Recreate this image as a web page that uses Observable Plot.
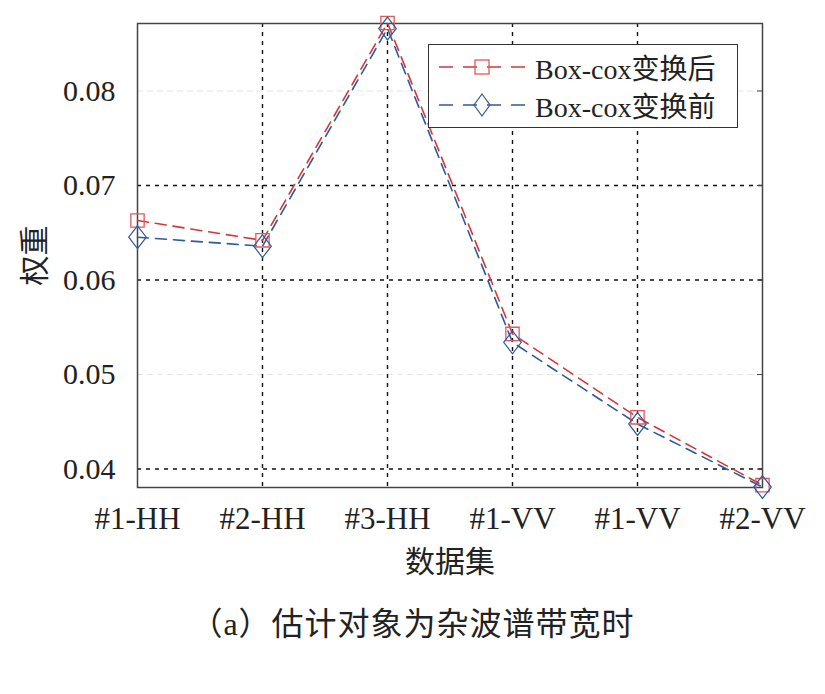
<!DOCTYPE html>
<html>
<head>
<meta charset="utf-8">
<script src="https://cdn.jsdelivr.net/npm/d3@7"></script>
<script src="https://cdn.jsdelivr.net/npm/@observablehq/plot@0.6"></script>
<style>
  body { margin: 0; background: #fff; }
  #wrap { position: relative; width: 825px; }
  #caption { font-family: "Liberation Serif", "Noto Sans CJK SC", serif; font-size: 32px; color: #222; text-align: center; width: 825px; margin-top: 8px; letter-spacing: 1px; }
  #legend { position: absolute; left: 428px; top: 44px; width: 310px; height: 84px; border: 1.3px solid #333; background: #fff; box-sizing: border-box; }
  #legend .row { position: absolute; left: 0; height: 36px; display: flex; align-items: center; }
  #legend span { font-family: "Liberation Serif", "Noto Sans CJK SC", serif; font-size: 28px; color: #222; margin-left: 8px; }
</style>
</head>
<body>
<div id="wrap"></div>
<div id="caption">（a）估计对象为杂波谱带宽时</div>
<script>
const categories = ["#1-HH", "#2-HH", "#3-HH", "#1-VV", "#1-VV", "#2-VV"];
const afterBoxcox = [0.0663, 0.0642, 0.0872, 0.0543, 0.04547, 0.0383];
const beforeBoxcox = [0.06453, 0.06358, 0.08661, 0.05341, 0.04477, 0.0381];
const seriesNames = ["Box-cox变换后", "Box-cox变换前"];
const yTicks = [0.04, 0.05, 0.06, 0.07, 0.08];
const darkGridY = [0.04, 0.06, 0.07];
const faintGridY = [0.05, 0.08];

const red = "#d8343b", blue = "#2d5a9c";
const font = "Liberation Serif, Noto Sans CJK SC, serif";

const rows = [];
categories.forEach((c, i) => {
  rows.push({i, v: afterBoxcox[i], s: seriesNames[0]});
  rows.push({i, v: beforeBoxcox[i], s: seriesNames[1]});
});
const after = rows.filter(d => d.s === seriesNames[0]);
const before = rows.filter(d => d.s === seriesNames[1]);

const tallDiamond = {
  draw(ctx, size) {
    const r = Math.sqrt(size) * 0.62;
    const h = r * 1.3;
    ctx.moveTo(0, -h); ctx.lineTo(r, 0); ctx.lineTo(0, h); ctx.lineTo(-r, 0); ctx.closePath();
  }
};

const chart = Plot.plot({
  width: 825,
  height: 590,
  marginLeft: 137,
  marginRight: 63,
  marginTop: 23,
  marginBottom: 103,
  style: { fontFamily: font, background: "#fff", color: "#222", overflow: "visible" },
  x: { type: "linear", domain: [0, 5] },
  y: { domain: [0.03805, 0.08714] },
  marks: [
    Plot.gridY(faintGridY, { stroke: "#ccc", strokeOpacity: 0.5, strokeDasharray: "6,4" }),
    Plot.gridY(darkGridY, { stroke: "#111", strokeOpacity: 1, strokeDasharray: "4,5", strokeWidth: 1.4 }),
    Plot.gridX([1, 2, 3, 4], { stroke: "#111", strokeOpacity: 1, strokeDasharray: "4,5", strokeWidth: 1.4 }),
    Plot.frame({ stroke: "#444", strokeWidth: 1.5 }),
    Plot.axisY({ ticks: yTicks, tickFormat: d3.format(".2f"), tickSize: 0, tickPadding: 22, fontSize: 30, label: "权重", labelAnchor: "center", labelArrow: "none", labelOffset: 114 }),
    Plot.axisY({ anchor: "right", ticks: yTicks, tickSize: -6, tickFormat: () => "", label: null, stroke: "#444" }),
    Plot.axisX({ ticks: [0, 1, 2, 3, 4, 5], tickFormat: i => categories[i], tickSize: 0, tickPadding: 19, fontSize: 31, label: "数据集", labelAnchor: "center", labelArrow: "none", labelOffset: 84, dx: 0 }),
    Plot.line(after, { x: "i", y: "v", stroke: red, strokeWidth: 1.6, strokeDasharray: "11,7" }),
    Plot.line(before, { x: "i", y: "v", stroke: blue, strokeWidth: 1.6, strokeDasharray: "11,7" }),
    Plot.dot(after, { x: "i", y: "v", symbol: "square", r: 7.5, stroke: "#e05a5a", strokeWidth: 1.3, fill: "none" }),
    Plot.dot(before, { x: "i", y: "v", symbol: tallDiamond, r: 8, stroke: blue, strokeWidth: 1.2, fill: "none" })
  ]
});
d3.select(chart).selectAll("g[aria-label='y-axis label'] text, g[aria-label='x-axis label'] text").style("font-size", "30px");
document.getElementById("wrap").appendChild(chart);

// Legend
const legend = document.createElement("div");
legend.id = "legend";
const items = [
  { name: seriesNames[0], color: red, mark: "square", mstroke: "#e05a5a" },
  { name: seriesNames[1], color: blue, mark: "diamond", mstroke: blue }
];
items.forEach((it, k) => {
  const row = document.createElement("div");
  row.className = "row";
  row.style.top = (4 + k * 38) + "px";
  const svg = d3.create("svg").attr("width", 98).attr("height", 36);
  svg.append("line").attr("x1", 10).attr("x2", 98).attr("y1", 18).attr("y2", 18)
    .attr("stroke", it.color).attr("stroke-width", 1.5).attr("stroke-dasharray", "14,10");
  if (it.mark === "square") {
    svg.append("rect").attr("x", 46).attr("y", 11).attr("width", 14).attr("height", 14)
      .attr("fill", "none").attr("stroke", it.mstroke).attr("stroke-width", 1.3);
  } else {
    svg.append("path").attr("d", "M53,7 L61,18 L53,29 L45,18 Z")
      .attr("fill", "none").attr("stroke", it.mstroke).attr("stroke-width", 1.2);
  }
  row.appendChild(svg.node());
  const sp = document.createElement("span");
  sp.textContent = it.name;
  row.appendChild(sp);
  legend.appendChild(row);
});
document.getElementById("wrap").appendChild(legend);
</script>
</body>
</html>
